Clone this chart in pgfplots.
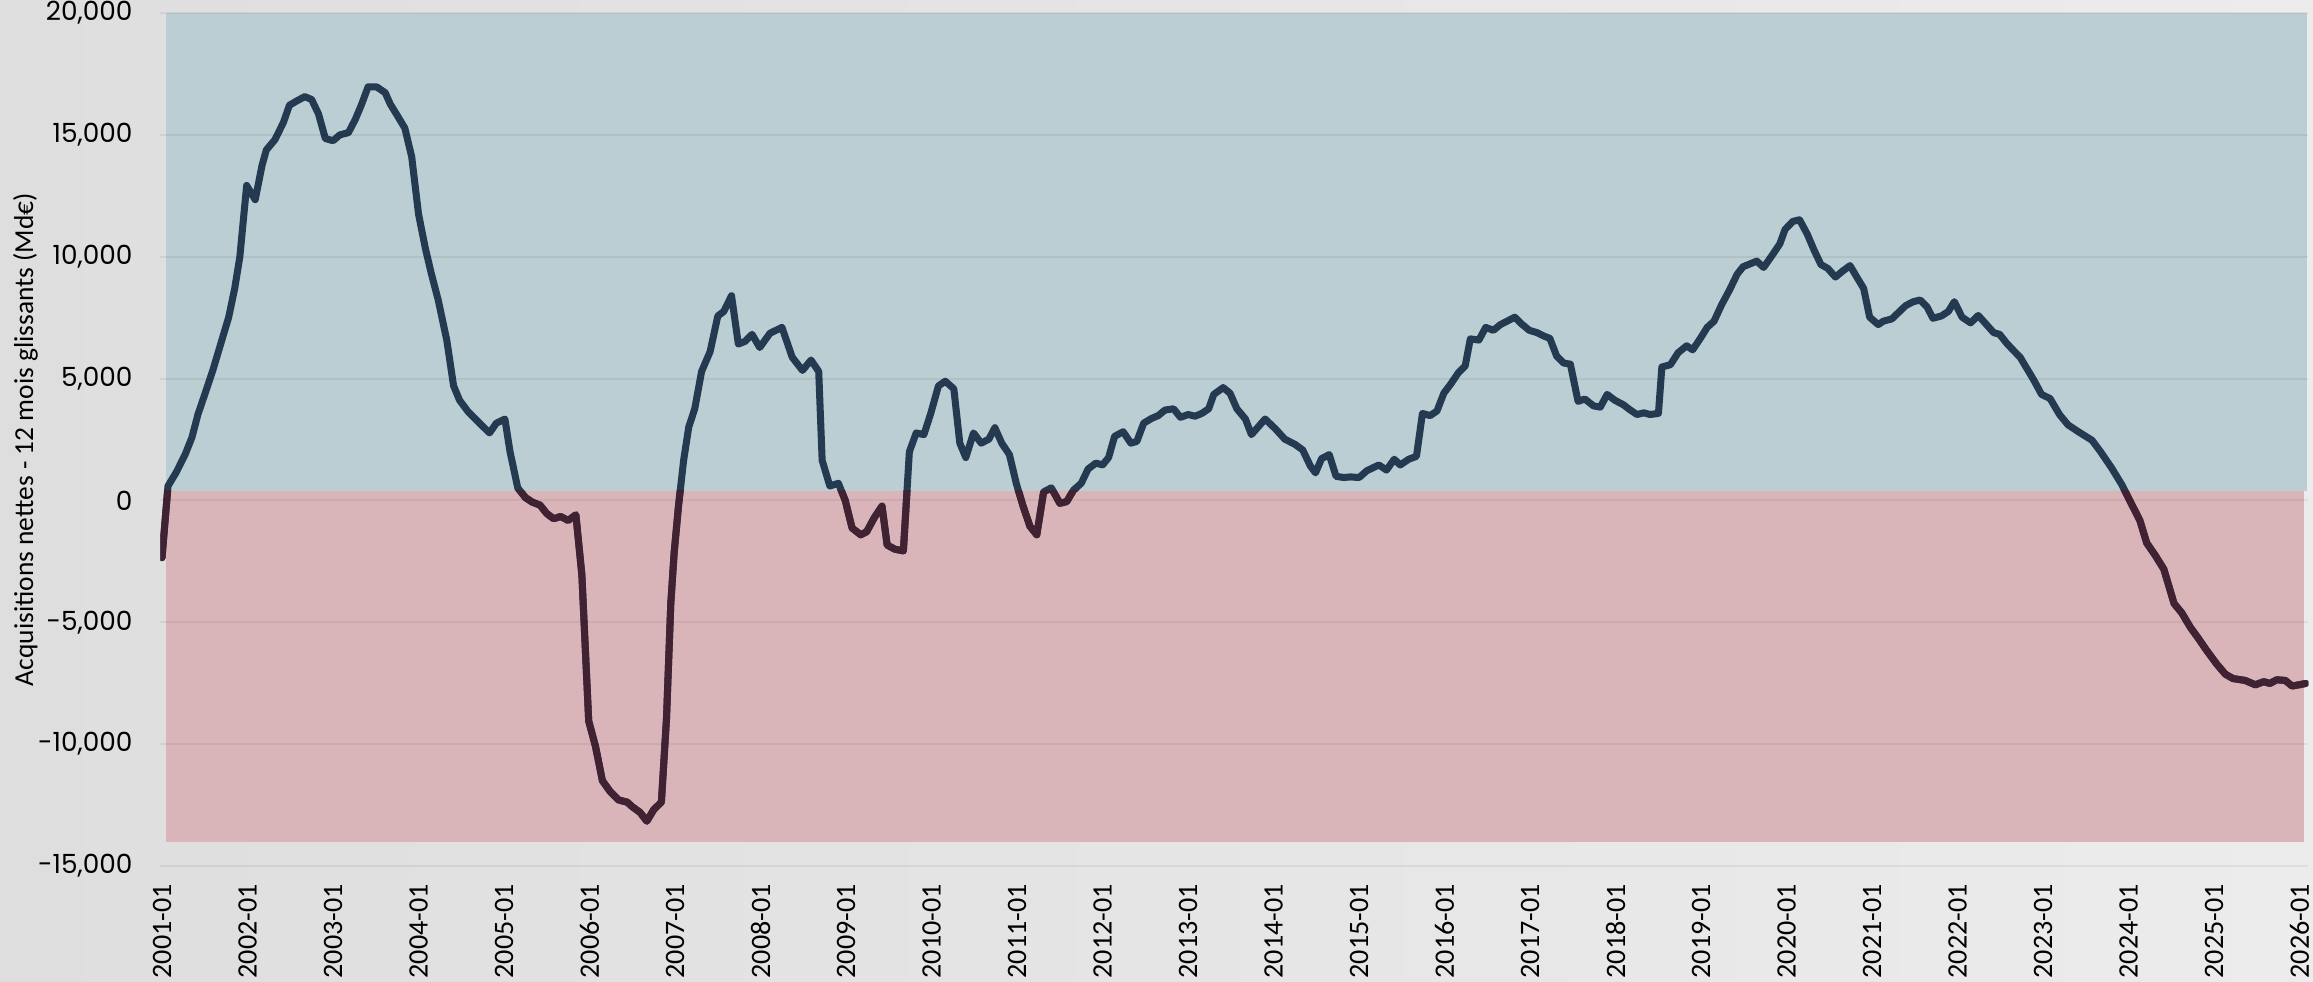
\documentclass[border=0pt]{standalone}
\usepackage{fontspec}
\setmainfont{Carlito}
\newfontfamily\numfont{Poppins}
\usepackage{pgfplots}
\pgfplotsset{compat=1.18}
\usepackage{pgfplotstable}

\definecolor{bgL}{RGB}{222,222,222}
\definecolor{bgR}{RGB}{236,236,236}
\definecolor{blueR}{RGB}{187,206,211}
\definecolor{redR}{RGB}{217,181,185}
\definecolor{navy}{RGB}{36,58,80}
\definecolor{maroon}{RGB}{64,34,50}

\pgfplotstableread{
x y
2001.00 -2350
2001.07 590
2001.17 1175
2001.27 1880
2001.35 2585
2001.42 3525
2001.50 4350
2001.60 5405
2001.68 6345
2001.78 7520
2001.85 8695
2001.91 9990
2001.99 12925
2002.09 12340
2002.17 13750
2002.22 14380
2002.32 14800
2002.42 15510
2002.49 16215
2002.58 16400
2002.67 16570
2002.75 16450
2002.83 15860
2002.91 14850
2003.00 14760
2003.08 15000
2003.18 15090
2003.26 15630
2003.33 16215
2003.41 16970
2003.51 16970
2003.61 16730
2003.67 16260
2003.74 15860
2003.84 15275
2003.92 14100
2004.00 11750
2004.08 10340
2004.15 9300
2004.23 8225
2004.33 6580
2004.41 4700
2004.48 4110
2004.58 3640
2004.68 3290
2004.76 3010
2004.83 2770
2004.91 3170
2005.01 3340
2005.07 2000
2005.16 517
2005.25 118
2005.33 -70
2005.42 -190
2005.50 -540
2005.58 -750
2005.66 -660
2005.75 -820
2005.84 -590
2005.91 -3055
2005.99 -9050
2006.07 -10100
2006.15 -11500
2006.24 -11940
2006.34 -12290
2006.44 -12380
2006.50 -12570
2006.59 -12800
2006.67 -13160
2006.75 -12690
2006.84 -12380
2006.90 -8930
2006.95 -4230
2006.99 -2115
2007.04 -235
2007.10 1645
2007.16 3010
2007.23 3760
2007.31 5290
2007.41 6110
2007.50 7570
2007.57 7755
2007.66 8400
2007.74 6415
2007.82 6530
2007.90 6815
2007.99 6275
2008.11 6860
2008.25 7100
2008.37 5875
2008.49 5335
2008.59 5760
2008.68 5290
2008.72 1645
2008.81 590
2008.91 705
2008.99 0
2009.07 -1130
2009.17 -1410
2009.24 -1290
2009.33 -705
2009.42 -235
2009.48 -1830
2009.57 -2000
2009.67 -2070
2009.74 2000
2009.82 2770
2009.91 2700
2009.99 3570
2010.08 4700
2010.16 4890
2010.26 4580
2010.33 2350
2010.40 1760
2010.49 2770
2010.58 2350
2010.67 2515
2010.74 2985
2010.82 2350
2010.91 1880
2010.99 700
2011.07 -235
2011.15 -1060
2011.23 -1410
2011.31 350
2011.40 517
2011.50 -118
2011.58 -47
2011.66 423
2011.75 705
2011.83 1290
2011.92 1530
2012.00 1460
2012.07 1760
2012.14 2630
2012.24 2820
2012.33 2350
2012.40 2420
2012.48 3170
2012.57 3360
2012.65 3480
2012.73 3710
2012.83 3760
2012.91 3410
2013.00 3525
2013.08 3455
2013.16 3570
2013.24 3760
2013.30 4350
2013.41 4630
2013.49 4400
2013.57 3760
2013.67 3340
2013.74 2700
2013.90 3340
2014.02 2940
2014.13 2515
2014.25 2300
2014.34 2070
2014.43 1410
2014.49 1130
2014.56 1715
2014.65 1880
2014.73 990
2014.82 940
2014.90 965
2015.00 940
2015.09 1220
2015.23 1455
2015.32 1245
2015.41 1690
2015.48 1455
2015.58 1690
2015.67 1810
2015.74 3570
2015.83 3480
2015.91 3670
2015.99 4400
2016.07 4770
2016.16 5240
2016.24 5520
2016.30 6630
2016.40 6580
2016.48 7100
2016.57 6980
2016.65 7210
2016.73 7355
2016.82 7520
2016.90 7240
2016.99 6980
2017.08 6885
2017.16 6745
2017.23 6650
2017.31 5920
2017.39 5640
2017.47 5590
2017.56 4065
2017.64 4160
2017.74 3880
2017.82 3830
2017.90 4350
2017.99 4110
2018.09 3925
2018.17 3710
2018.25 3525
2018.33 3595
2018.40 3525
2018.50 3570
2018.54 5475
2018.64 5570
2018.73 6060
2018.83 6345
2018.90 6180
2018.99 6650
2019.07 7100
2019.15 7355
2019.24 8040
2019.33 8625
2019.42 9280
2019.49 9590
2019.57 9705
2019.65 9820
2019.73 9560
2019.83 10060
2019.92 10530
2019.98 11115
2020.07 11445
2020.15 11515
2020.24 10930
2020.32 10270
2020.40 9680
2020.48 9520
2020.57 9165
2020.65 9400
2020.74 9635
2020.82 9165
2020.90 8695
2020.97 7520
2021.07 7215
2021.13 7355
2021.23 7450
2021.39 7990
2021.48 8155
2021.56 8225
2021.64 7945
2021.71 7475
2021.81 7570
2021.89 7755
2021.96 8155
2022.05 7520
2022.15 7285
2022.24 7590
2022.33 7240
2022.42 6885
2022.49 6815
2022.57 6460
2022.65 6160
2022.73 5875
2022.81 5405
2022.89 4935
2022.98 4350
2023.08 4180
2023.19 3525
2023.29 3100
2023.41 2820
2023.57 2470
2023.67 2000
2023.80 1330
2023.92 640
2024.03 -130
2024.13 -820
2024.21 -1745
2024.31 -2255
2024.41 -2820
2024.53 -4230
2024.62 -4615
2024.72 -5205
2024.81 -5640
2024.91 -6150
2025.03 -6720
2025.13 -7130
2025.22 -7310
2025.36 -7385
2025.48 -7565
2025.58 -7435
2025.65 -7510
2025.73 -7360
2025.83 -7385
2025.91 -7615
2025.99 -7565
2026.07 -7510
}\datatable

\begin{document}
\begin{tikzpicture}
\fill[left color=bgL, right color=bgR] (-1.603,-1.15) rectangle (21.527,8.66);
\begin{axis}[
  at={(0,0)}, anchor=south west,
  scale only axis, width=21.48cm, height=8.53cm,
  xmin=2000.98, xmax=2026.10, ymin=-15000, ymax=20000,
  axis on top,
  axis line style={draw=none},
  tick style={draw=none},
  major tick length=0pt,
  xtick={2001,2002,...,2026},
  xticklabels={2001-01,2002-01,2003-01,2004-01,2005-01,2006-01,2007-01,2008-01,2009-01,2010-01,2011-01,2012-01,2013-01,2014-01,2015-01,2016-01,2017-01,2018-01,2019-01,2020-01,2021-01,2022-01,2023-01,2024-01,2025-01,2026-01},
  xticklabel style={font=\fontsize{8}{9}\selectfont, rotate=90, anchor=east, inner sep=0pt, xshift=-5pt},
  ytick={-15000,-10000,...,20000},
  scaled y ticks=false,
  ymajorgrids,
  grid style={black, opacity=0.06, line width=0.6pt},
  yticklabel style={font=\numfont\fontsize{7.5}{8}\selectfont, anchor=east, inner sep=0pt, xshift=-7.7pt},
  /pgf/number format/1000 sep={,},
  /pgf/number format/assume math mode=true,
  ylabel={Acquisitions nettes - 12 mois glissants (Md€)},
  ylabel style={font=\fontsize{7.8}{9}\selectfont, at={(axis description cs:-0.0628,0.5)}, anchor=center, rotate=0},
]
\addplot[draw=none, fill=blueR] coordinates {(2001.05,400) (2026.08,400) (2026.08,20000) (2001.05,20000)} -- cycle;
\addplot[draw=none, fill=redR] coordinates {(2001.05,-14000) (2026.05,-14000) (2026.05,400) (2001.05,400)} -- cycle;
\addplot[navy, line width=2pt, line join=round, line cap=round] table[x=x,y=y]{\datatable};
\begin{scope}
\clip (axis cs:2000,-16000) rectangle (axis cs:2027,400);
\addplot[maroon, line width=2pt, line join=round, line cap=round] table[x=x,y=y]{\datatable};
\end{scope}
\end{axis}
\pgfresetboundingbox
\path[use as bounding box] (-1.603,-1.15) rectangle (21.527,8.66);
\end{tikzpicture}
\end{document}
